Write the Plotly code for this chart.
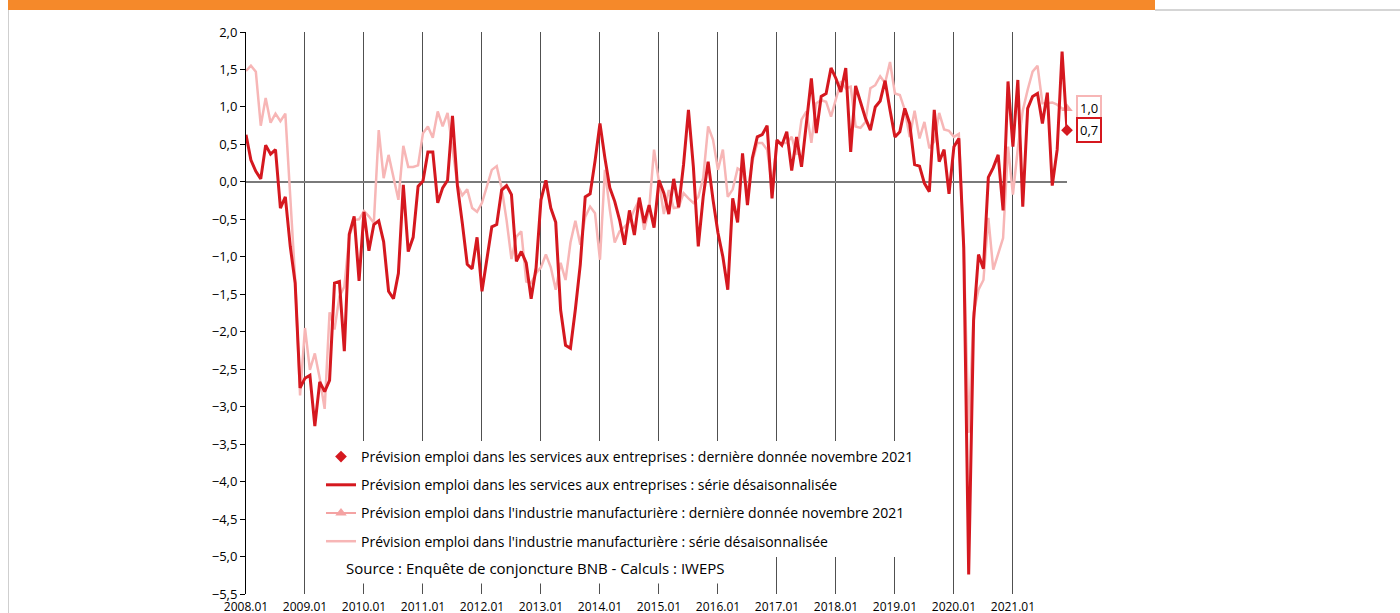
import plotly.graph_objects as go

# Prévision emploi, données mensuelles 2008.01 -> 2021.11
services = [
    0.63, 0.29, 0.14, 0.04, 0.49, 0.37, 0.43, -0.35, -0.20, -0.86, -1.35, -2.75,
    -2.62, -2.58, -3.26, -2.67, -2.80, -2.65, -1.35, -1.33, -2.26, -0.70, -0.46, -1.32,
    -0.40, -0.92, -0.57, -0.52, -0.80, -1.46, -1.56, -1.22, -0.04, -0.93, -0.74, -0.06,
    0.01, 0.40, 0.40, -0.28, -0.08, 0.02, 0.88, -0.05, -0.55, -1.10, -1.16, -0.74,
    -1.46, -1.02, -0.60, -0.57, -0.11, -0.05, -0.17, -1.06, -0.93, -1.08, -1.56, -1.15,
    -0.24, 0.02, -0.35, -0.54, -1.71, -2.18, -2.22, -1.70, -1.10, -0.20, -0.16, 0.28,
    0.78, 0.32, -0.08, -0.26, -0.51, -0.84, -0.38, -0.71, -0.21, -0.55, -0.31, -0.61,
    0.02, -0.15, -0.43, 0.04, -0.34, 0.23, 0.96, 0.20, -0.86, -0.20, 0.27, -0.24,
    -0.68, -1.00, -1.44, -0.22, -0.54, 0.38, -0.31, 0.32, 0.60, 0.63, 0.75, -0.22,
    0.56, 0.49, 0.67, 0.15, 0.60, 0.20, 0.75, 1.38, 0.65, 1.14, 1.18, 1.52,
    1.38, 1.20, 1.52, 0.40, 1.28, 1.07, 0.85, 0.69, 1.00, 1.08, 1.35, 0.96,
    0.60, 0.67, 0.98, 0.78, 0.23, 0.21, -0.02, -0.13, 0.96, 0.27, 0.43, -0.16,
    0.47, 0.58, -0.88, -5.24, -1.85, -0.97, -1.16, 0.06, 0.19, 0.36, -0.38, 1.34,
    0.47, 1.36, -0.33, 0.98, 1.14, 1.18, 0.78, 1.19, -0.05, 0.43, 1.74, 0.69,
]

industrie = [
    1.48, 1.55, 1.47, 0.75, 1.12, 0.79, 0.91, 0.81, 0.91, -0.25, -1.30, -2.85,
    -1.95, -2.51, -2.29, -2.62, -3.03, -1.74, -1.97, -1.53, -1.40, -0.73, -0.51, -0.50,
    -0.39, -0.46, -0.55, 0.69, 0.05, 0.36, 0.07, -0.24, 0.48, 0.20, 0.20, 0.22,
    0.65, 0.74, 0.59, 0.94, 0.74, 0.92, 0.45, -0.04, -0.18, -0.10, -0.35, -0.40,
    -0.28, -0.05, 0.16, 0.21, -0.08, -0.51, -1.03, -0.73, -0.66, -1.33, -1.35, -1.22,
    -1.14, -0.97, -1.14, -1.44, -1.08, -1.31, -0.81, -0.52, -0.84, -0.47, -0.33, -0.42,
    -1.04, 0.16, -0.37, -0.81, -0.66, -0.60, -0.53, -0.37, -0.24, -0.64, -0.37, 0.43,
    0.00, -0.43, -0.11, -0.35, -0.34, -0.15, -0.22, -0.28, -0.20, 0.05, 0.74, 0.56,
    0.16, 0.43, -0.20, -0.10, 0.18, 0.14, -0.13, 0.27, 0.52, 0.52, 0.43, -0.05,
    0.52, 0.52, 0.52, 0.60, 0.36, 0.83, 0.94, 0.52, 1.05, 1.09, 1.07, 0.87,
    1.12, 1.34, 1.25, 1.27, 0.74, 0.72, 0.80, 1.25, 1.29, 1.41, 1.32, 1.60,
    1.18, 1.16, 0.96, 0.60, 0.95, 0.58, 0.80, 0.45, 0.54, 0.92, 0.70, 0.68,
    0.60, 0.64, -0.90, -3.35, -1.75, -1.44, -1.31, -0.48, -1.17, -0.95, -0.75, 0.47,
    -0.17, 0.45, 0.95, 1.23, 1.47, 1.55, 1.05, 1.05, 1.06, 1.03, 0.98, 0.98,
]

years = list(range(2008, 2022))
tick_labels = [f"{y}.01" for y in years]

months = list(range(len(services)))
tick_pos = [12 * i for i in range(len(years))]

RED = "#D5181F"
PINK = "#F7B6B6"
SALMON = "#F4A3A3"
FONT = "Open Sans"

fig = go.Figure()

# pink first so the red line is drawn on top; legend order set with legendrank
fig.add_trace(go.Scatter(
    x=months, y=industrie, mode="lines",
    line=dict(color=PINK, width=2.5),
    name="Prévision emploi dans l'industrie manufacturière : série désaisonnalisée",
    legendgroup="g4", legendrank=4,
))
fig.add_trace(go.Scatter(
    x=[months[-1]], y=[industrie[-1]], mode="lines+markers",
    line=dict(color=SALMON, width=2),
    marker=dict(symbol="triangle-up", size=10, color=SALMON),
    name="Prévision emploi dans l'industrie manufacturière : dernière donnée novembre 2021",
    legendgroup="g3", legendrank=3, cliponaxis=False,
))
fig.add_trace(go.Scatter(
    x=months, y=services, mode="lines",
    line=dict(color=RED, width=3),
    name="Prévision emploi dans les services aux entreprises : série désaisonnalisée",
    legendgroup="g2", legendrank=2,
))
fig.add_trace(go.Scatter(
    x=[months[-1]], y=[services[-1]], mode="markers",
    marker=dict(symbol="diamond", size=9, color=RED),
    name="Prévision emploi dans les services aux entreprises : dernière donnée novembre 2021",
    legendgroup="g1", legendrank=1, cliponaxis=False,
))

# étiquettes des dernières valeurs
for val, col in [(industrie[-1], PINK), (services[-1], RED)]:
    fig.add_annotation(
        x=months[-1], y=val, text=f"{val:.1f}".replace(".", ","),
        showarrow=False, xanchor="left", xshift=9,
        bordercolor=col, borderwidth=2, borderpad=2, bgcolor="white",
        font=dict(family=FONT, size=13, color="black"),
    )


def px_x(p):
    return (p - 246) / 821


def px_y(p):
    return (594 - p) / 562


fig.add_annotation(
    text="Source : Enquête de conjoncture BNB - Calculs : IWEPS",
    xref="paper", yref="paper", x=px_x(340), y=px_y(568),
    xanchor="left", yanchor="middle",
    showarrow=False, bgcolor="white", borderpad=5,
    font=dict(family=FONT, size=15, color="black"),
)

# bandeau orange et cadre
fig.add_shape(type="rect", xref="paper", yref="paper",
              x0=px_x(8), x1=px_x(1155), y0=px_y(10), y1=px_y(-2),
              fillcolor="#F5892A", line=dict(width=0), layer="above")
fig.add_shape(type="line", xref="paper", yref="paper",
              x0=px_x(8.5), x1=px_x(8.5), y0=px_y(10), y1=px_y(620),
              line=dict(color="#cfcfcf", width=1))
fig.add_shape(type="line", xref="paper", yref="paper",
              x0=px_x(1155), x1=px_x(1400), y0=px_y(10), y1=px_y(10),
              line=dict(color="#d5d5d5", width=2))

fig.update_layout(
    width=1400, height=613,
    margin=dict(l=246, r=333, t=32, b=19),
    paper_bgcolor="white", plot_bgcolor="white",
    separators=", ",
    font=dict(family=FONT, size=13, color="black"),
    showlegend=True,
    legend=dict(
        x=px_x(321), y=px_y(441), xanchor="left", yanchor="top",
        bgcolor="white", traceorder="grouped", tracegroupgap=7,
        itemwidth=30, font=dict(family=FONT, size=14, color="black"),
    ),
)
fig.update_xaxes(
    range=[0, months[-1]], tickvals=tick_pos, ticktext=tick_labels,
    showgrid=True, gridcolor="#505050", gridwidth=1,
    zeroline=False, showline=False, ticks="", automargin=False,
    ticklabelstandoff=4,
    tickfont=dict(family=FONT, size=12, color="black"),
)
fig.update_yaxes(
    range=[-5.5, 2.0], dtick=0.5, tick0=0, tickformat=".1f",
    showgrid=False, zeroline=True, zerolinecolor="#7a7a7a", zerolinewidth=2,
    showline=True, linecolor="black", linewidth=1, automargin=False,
    ticks="outside", ticklen=5, tickcolor="black",
    tickfont=dict(family=FONT, size=13, color="black"),
)

fig.write_html("out.html", config={"displayModeBar": False},
               post_script="document.body.style.margin='0';")
